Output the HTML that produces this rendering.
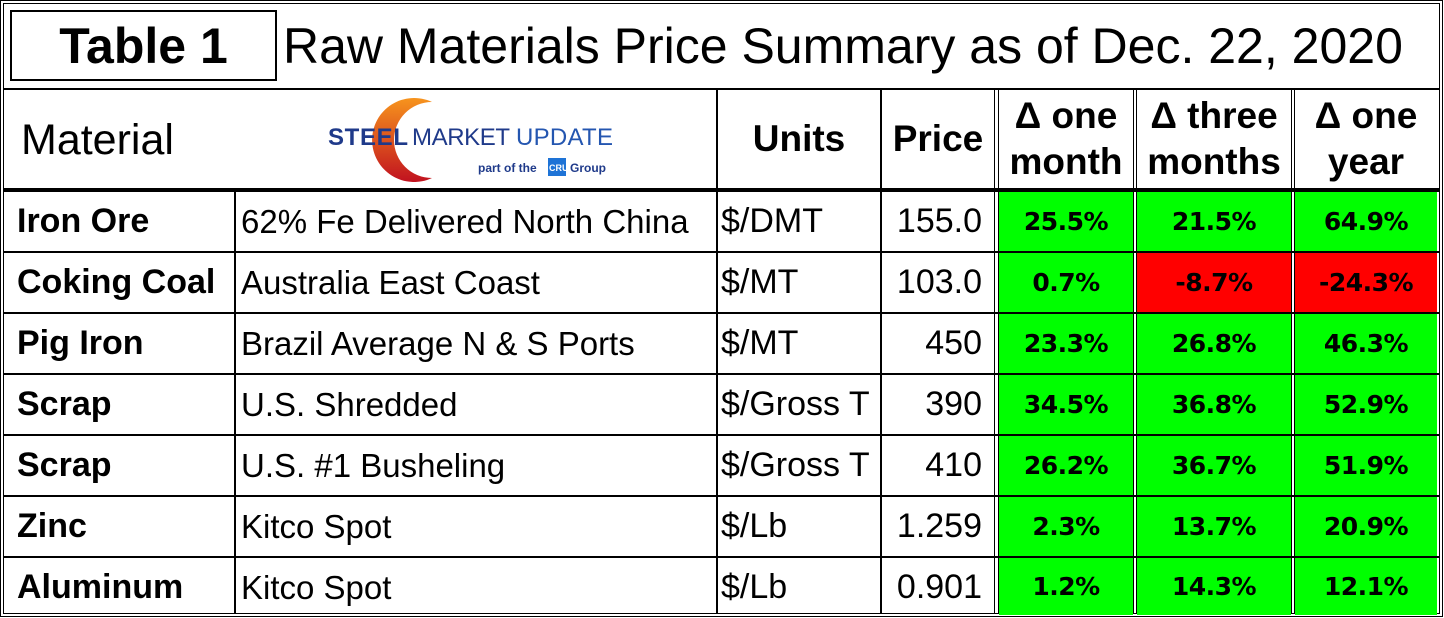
<!DOCTYPE html>
<html><head><meta charset="utf-8"><style>
body{margin:0;width:1444px;height:618px;background:#fff;position:relative;overflow:hidden;font-family:"Liberation Sans",Arial,sans-serif;color:#000}
.a{position:absolute;box-sizing:border-box}
.hl{position:absolute;background:#000;height:2px}
.vl{position:absolute;background:#000;width:2px}
.t{position:absolute;white-space:nowrap;line-height:1}
.c{display:flex;align-items:center;justify-content:center;text-align:center}
.pct{font-family:"DejaVu Sans",Verdana,sans-serif;font-weight:bold;font-size:25px;letter-spacing:-0.5px}
.g{background:#00ff00}.r{background:#ff0000}
.mat{font-weight:bold;font-size:34px;left:17px}
.desc{font-size:33px;left:241px}
.unit{font-size:34px;left:721px}
.price{font-size:34px;width:114px;text-align:right}
</style></head><body>
<div class="a" style="left:0;top:0;width:1443px;height:617px;border:4px double #000"></div>
<div class="a c" style="left:10px;top:10px;width:267px;height:71px;border:2px solid #000;font-weight:bold;font-size:50px">Table 1</div>
<div class="t" style="left:283px;top:21px;font-size:50px">Raw Materials Price Summary as of Dec. 22, 2020</div>
<div class="hl" style="left:3px;top:88px;width:1437px"></div>
<div class="hl" style="left:3px;top:188px;width:1437px;height:4px"></div>
<div class="vl" style="left:716px;top:88px;height:526px"></div>
<div class="vl" style="left:880px;top:88px;height:526px"></div>
<div class="vl" style="left:234px;top:190px;height:424px"></div>
<div class="vl" style="left:994px;top:88px;height:526px;width:5px;background:none;border-left:1px solid #000;border-right:1px solid #000;box-sizing:border-box"></div>
<div class="vl" style="left:1133px;top:88px;height:526px;width:4px;background:none;border-left:1px solid #000;border-right:1px solid #000;box-sizing:border-box"></div>
<div class="vl" style="left:1291px;top:88px;height:526px;width:4px;background:none;border-left:1px solid #000;border-right:1px solid #000;box-sizing:border-box"></div>
<div class="t" style="left:21px;top:119px;font-size:43px">Material</div>
<div class="a" style="left:320px;top:92px;width:300px;height:92px">
<svg width="300" height="92" viewBox="0 0 300 92"><defs><linearGradient id="lg" x1="0" y1="0" x2="0" y2="1"><stop offset="0" stop-color="#f7941d"/><stop offset="1" stop-color="#c1121f"/></linearGradient></defs>
<path d="M112 10 A42 42 0 1 0 112 86 A36 36 0 1 1 112 10Z" fill="url(#lg)"/>
<text x="8" y="53" font-family="Liberation Sans,Arial,sans-serif" font-size="24" font-weight="bold" fill="#1f3a8a" textLength="80">STEEL</text>
<text x="92" y="53" font-family="Liberation Sans,Arial,sans-serif" font-size="24" fill="#1f3a8a" textLength="98">MARKET</text>
<text x="196" y="53" font-family="Liberation Sans,Arial,sans-serif" font-size="24" fill="#2456b0" textLength="97">UPDATE</text>
<text x="158" y="80" font-family="Liberation Sans,Arial,sans-serif" font-size="12" font-weight="bold" fill="#1f3a8a">part of the</text>
<rect x="228" y="66" width="18" height="18" fill="#1e73d6"/><text x="229" y="79" font-family="Liberation Sans,Arial,sans-serif" font-size="9" fill="#fff" font-weight="bold">CRU</text>
<text x="250" y="80" font-family="Liberation Sans,Arial,sans-serif" font-size="12" font-weight="bold" fill="#1f3a8a">Group</text></svg></div>
<div class="a c" style="left:718px;top:90px;width:162px;height:98px;font-weight:bold;font-size:37px">Units</div>
<div class="a c" style="left:882px;top:90px;width:112px;height:98px;font-weight:bold;font-size:37px">Price</div>
<div class="a c" style="left:999px;top:90px;width:134px;height:98px;font-weight:bold;font-size:37px;line-height:1.25">Δ one<br>month</div>
<div class="a c" style="left:1137px;top:90px;width:154px;height:98px;font-weight:bold;font-size:37px;line-height:1.25">Δ three<br>months</div>
<div class="a c" style="left:1295px;top:90px;width:142px;height:98px;font-weight:bold;font-size:37px;line-height:1.25">Δ one<br>year</div>
<div id="rows"></div>
<script>
const materials=["Iron Ore","Coking Coal","Pig Iron","Scrap","Scrap","Zinc","Aluminum"];
const descs=["62% Fe Delivered North China","Australia East Coast","Brazil Average N & S Ports","U.S. Shredded","U.S. #1 Busheling","Kitco Spot","Kitco Spot"];
const units=["$/DMT","$/MT","$/MT","$/Gross T","$/Gross T","$/Lb","$/Lb"];
const prices=["155.0","103.0","450","390","410","1.259","0.901"];
const oneMonth=[25.5,0.7,23.3,34.5,26.2,2.3,1.2];
const threeMonths=[21.5,-8.7,26.8,36.8,36.7,13.7,14.3];
const oneYear=[64.9,-24.3,46.3,52.9,51.9,20.9,12.1];
const root=document.getElementById('rows');
const cols=[[999,134,oneMonth,'one-month'],[1137,154,threeMonths,'three-months'],[1295,142,oneYear,'one-year']];
for(let i=0;i<materials.length;i++){
 const top=192+i*61, h=i==materials.length-1?61:59;
 if(i>0){const l=document.createElement('div');l.className='hl';l.style.cssText=`left:3px;top:${top-2}px;width:1437px`;root.appendChild(l);}
 const mk=(cls,txt,name,style)=>{const d=document.createElement('div');d.className='t '+cls;d.textContent=txt;d.style.cssText=style;
  
  
  root.appendChild(d);};
 mk('mat',materials[i],'material-name',`top:${top+12}px`);
 mk('desc',descs[i],'material-description',`top:${top+13}px`);
 mk('unit',units[i],'units-cell',`top:${top+12}px`);
 mk('price',prices[i],'price-cell',`left:868px;top:${top+12}px`);
 for(const [x,w,arr,nm] of cols){
  const v=arr[i];const d=document.createElement('div');
  d.className='a c pct '+(v<0?'r':'g');
  d.style.cssText=`left:${x}px;top:${top}px;width:${w}px;height:${h-(i==materials.length-1?4:0)}px`;
  d.textContent=v.toFixed(1)+'%';
  
  
  root.appendChild(d);
 }
}
</script>
</body></html>
